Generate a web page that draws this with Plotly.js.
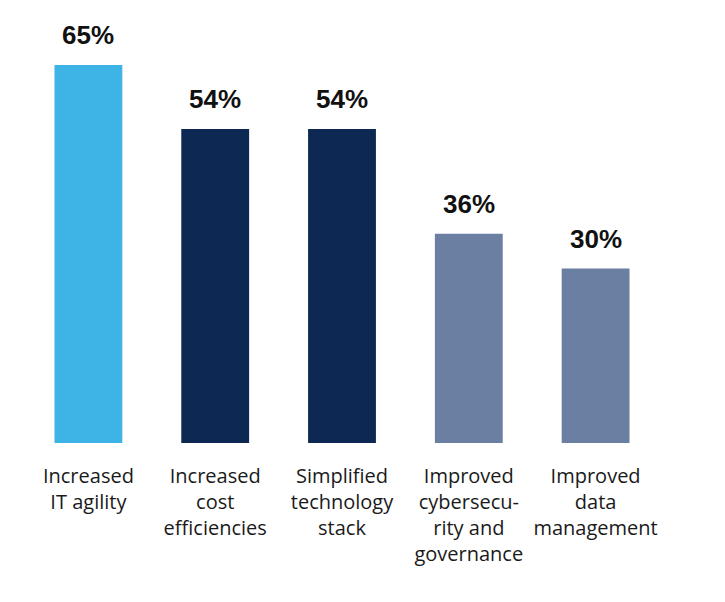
<!DOCTYPE html>
<html>
<head>
<meta charset="utf-8">
<script src="https://cdn.plot.ly/plotly-3.0.1.min.js"></script>
<style>html,body{margin:0;padding:0;background:#fff;}#chart{width:725px;height:602px;}</style>
</head>
<body>
<div id="chart"></div>
<script>
const categories = ["Increased<br>IT agility", "Increased<br>cost<br>efficiencies", "Simplified<br>technology<br>stack", "Improved<br>cybersecu-<br>rity and<br>governance", "Improved<br>data<br>management"];
const values = [65, 54, 54, 36, 30];
const valueLabels = ["65%", "54%", "54%", "36%", "30%"];
const barColors = ["#3DB4E5", "#0D2852", "#0D2852", "#6B7FA3", "#6B7FA3"];

const trace = {
  type: "bar",
  x: categories,
  y: values,
  marker: {color: barColors},
  hoverinfo: "none"
};

const annotations = categories.map((c, i) => ({
  x: c, y: values[i], text: valueLabels[i],
  xref: "x", yref: "y", showarrow: false,
  yanchor: "bottom", yshift: 13,
  font: {family: "Liberation Sans, Arial, sans-serif", size: 26, color: "#111", weight: "bold"}
}));

const layout = {
  width: 725,
  height: 602,
  margin: {l: 24.5, r: 65.5, t: 36, b: 159},
  paper_bgcolor: "#fff",
  plot_bgcolor: "#fff",
  bargap: 0.465,
  showlegend: false,
  annotations: annotations,
  font: {family: "Open Sans, sans-serif", size: 20, color: "#222"},
  xaxis: {
    showline: false, showgrid: false, zeroline: false, ticks: "",
    tickfont: {family: "Open Sans, sans-serif", size: 20, color: "#1a1a1a"},
    ticklabelstandoff: 19
  },
  yaxis: {
    range: [0, 70], visible: false, showgrid: false, zeroline: false
  }
};

Plotly.newPlot("chart", [trace], layout, {displayModeBar: false, staticPlot: true});
</script>
</body>
</html>
